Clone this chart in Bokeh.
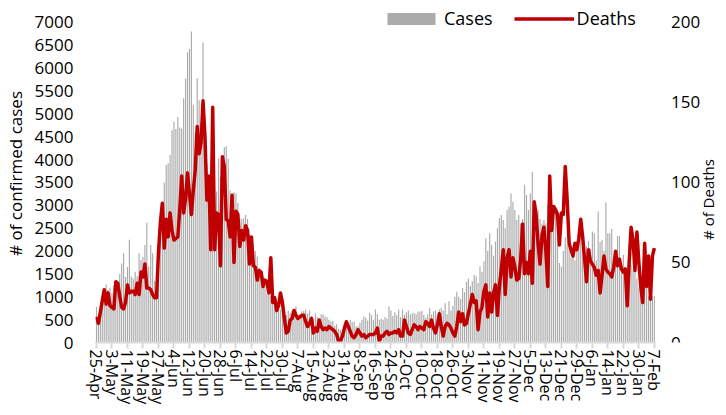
import math
from bokeh.plotting import figure
from bokeh.models import (Range1d, FixedTicker, Legend, LegendItem,
                          ColumnDataSource, Label)
from bokeh.core.properties import value
from bokeh.embed import file_html
from bokeh.resources import INLINE

tick_labels = ["25-Apr", "3-May", "11-May", "19-May", "27-May", "4-Jun", "12-Jun",
               "20-Jun", "28-Jun", "6-Jul", "14-Jul", "22-Jul", "30-Jul", "7-Aug",
               "15-Aug", "23-Aug", "31-Aug", "8-Sep", "16-Sep", "24-Sep", "2-Oct",
               "10-Oct", "18-Oct", "26-Oct", "3-Nov", "11-Nov", "19-Nov", "27-Nov",
               "5-Dec", "13-Dec", "21-Dec", "29-Dec", "6-Jan", "14-Jan", "22-Jan",
               "30-Jan", "7-Feb"]
tick_step_days = 8

cases = [
    780, 620, 700, 900, 1000, 1270, 1150, 1200,
    1080, 1250, 1300, 1200, 1500, 1730, 1950, 1440,
    1650, 2250, 1450, 1400, 1550, 1450, 1950, 1800,
    1870, 2130, 2620, 1660, 2130, 1950, 1350, 1440,
    2050, 2600, 3080, 3500, 3880, 3920, 4100, 4640,
    4830, 4670, 4930, 4700, 4680, 5340, 5770, 6350,
    6420, 6800, 5190, 4600, 5780, 5300, 4800, 6560,
    4420, 3910, 3620, 3400, 3500, 3080, 3300, 4020,
    3620, 4050, 4270, 4300, 4020, 3330, 3260, 3290,
    3260, 3050, 2720, 2700, 2720, 2790, 2700, 2360,
    2150, 2000, 2000, 1880, 1630, 1450, 1450, 1230,
    1060, 1100, 1010, 900, 850, 830, 880, 720,
    700, 640, 600, 700, 650, 690, 560, 790,
    600, 580, 680, 690, 720, 640, 700, 580,
    520, 640, 560, 470, 620, 610, 570, 550,
    500, 460, 470, 360, 400, 300, 280, 250,
    420, 360, 400, 500, 450, 460, 350, 360,
    430, 500, 570, 540, 480, 650, 600, 500,
    720, 620, 500, 520, 500, 560, 520, 790,
    700, 580, 660, 600, 720, 560, 720, 600,
    660, 700, 620, 640, 650, 620, 680, 680,
    690, 600, 540, 620, 750, 620, 680, 700,
    580, 720, 760, 700, 860, 620, 900, 700,
    800, 1000, 1110, 1000, 950, 1190, 1100, 1330,
    1400, 1230, 1340, 1480, 1450, 1300, 1665, 1550,
    1770, 2280, 2000, 2390, 2135, 1900, 2210, 2500,
    2720, 2790, 2680, 2500, 2900, 2970, 3260, 3080,
    2900, 2680, 2790, 2600, 2700, 3450, 3225, 2900,
    3260, 3730, 3080, 2970, 2900, 2700, 2600, 2680,
    2600, 3000, 2900, 3120, 2800, 2860, 2300, 1740,
    1660, 2000, 2300, 2150, 2100, 1850, 1950, 1800,
    2000, 2430, 2300, 2063, 1700, 2100, 2225, 2050,
    2430, 2390, 1800, 2865, 2200, 2250, 2000, 3060,
    2390, 2390, 2480, 1700, 1900, 2330, 2330, 1700,
    1920, 1500, 1010, 2100, 1700, 1590, 1735, 1400,
    1200, 1230, 1200, 1300, 1230, 1010, 1230, 1010,
    1010,
]

deaths = [
    16, 12, 19, 26, 33, 24, 31, 23,
    22, 21, 38, 37, 29, 22, 21, 25,
    36, 31, 32, 32, 30, 37, 30, 44,
    41, 49, 34, 34, 33, 30, 28, 28,
    56, 75, 87, 59, 77, 66, 81, 70,
    64, 65, 66, 83, 104, 81, 90, 106,
    93, 80, 95, 108, 135, 118, 125, 151,
    129, 89, 104, 58, 147, 58, 81, 80,
    48, 116, 110, 77, 76, 66, 92, 50,
    82, 80, 60, 70, 64, 73, 70, 49,
    66, 48, 47, 39, 45, 44, 35, 39,
    38, 31, 53, 25, 28, 20, 23, 31,
    25, 15, 6, 7, 14, 15, 20, 17,
    15, 16, 17, 17, 13, 10, 12, 15,
    6, 9, 7, 14, 10, 8, 9, 8,
    10, 9, 8, 7, 5, 1, 1, 4,
    9, 13, 10, 7, 4, 3, 5, 8,
    6, 4, 5, 3, 4, 5, 5, 5,
    6, 9, 1, 4, 4, 6, 7, 5,
    6, 6, 7, 6, 8, 4, 4, 14,
    10, 6, 5, 8, 11, 10, 8, 10,
    9, 8, 13, 12, 10, 14, 9, 6,
    11, 18, 10, 4, 10, 12, 11, 9,
    6, 4, 10, 19, 13, 18, 11, 12,
    18, 24, 30, 25, 26, 8, 19, 22,
    32, 36, 16, 31, 19, 31, 36, 17,
    35, 46, 58, 30, 53, 58, 41, 53,
    47, 39, 40, 52, 74, 43, 50, 43,
    57, 37, 88, 79, 61, 49, 67, 72,
    57, 35, 104, 70, 85, 83, 80, 61,
    81, 80, 110, 89, 62, 58, 54, 62,
    58, 65, 77, 66, 52, 38, 58, 51,
    49, 47, 42, 45, 31, 42, 54, 46,
    44, 43, 41, 47, 57, 48, 52, 46,
    44, 46, 23, 50, 72, 64, 45, 69,
    50, 35, 25, 62, 35, 54, 27, 54,
    59,
]

cases_ticks = list(range(0, 7001, 500))
deaths_ticks = [0, 50, 100, 150, 200]
cases_max = 7000
deaths_max = 200

FONT = "Open Sans"

# ---- layout (pixels) ----
W, H = 718, 407
LEFT, TOP, BOTTOM = 87, 4, 64
DATA_PX_W = 567               # width of the day axis in pixels
AXIS_PX = 321                 # pixels from value 0 to the top tick
RIGHT_LABEL_GAP = 16          # gap between day axis end and right tick labels
RIGHT_TITLE_X = 612           # right title anchor, px from frame left
TITLE_Y = 143                 # right title centre, px from frame bottom

n = len(cases)
frame_w = W - LEFT
frame_h = H - TOP - BOTTOM
px_per_day = DATA_PX_W / n
x_lo = -0.5
x_hi = x_lo + frame_w / px_per_day          # frame extends right for the right labels
x_rlab = x_lo + (DATA_PX_W + RIGHT_LABEL_GAP) / px_per_day
scale_up = frame_h / AXIS_PX                # frame extends above the top tick

day = list(range(n))
src = ColumnDataSource(dict(day=day, cases=cases, deaths=deaths))

p = figure(width=W, height=H, output_backend="svg", toolbar_location=None,
           x_range=Range1d(x_lo, x_hi),
           y_range=Range1d(0, cases_max * scale_up),
           min_border_left=LEFT, min_border_right=0, min_border_top=TOP,
           min_border_bottom=BOTTOM)
p.extra_y_ranges = {"deaths": Range1d(0, deaths_max * scale_up)}
p.outline_line_color = None
p.xgrid.visible = False
p.ygrid.visible = False
p.background_fill_color = "white"
p.border_fill_color = "white"

bars = p.vbar(x="day", top="cases", width=0.6, source=src,
              fill_color="#ABABAB", line_color=None)
line = p.line(x="day", y="deaths", source=src, y_range_name="deaths",
              line_color="#C00000", line_width=3.5, line_join="round")

# x axis (line limited to the day range)
xa = p.xaxis[0]
xt = [i * tick_step_days for i in range(len(tick_labels))]
xa.ticker = FixedTicker(ticks=xt)
xa.bounds = (x_lo, n - 0.5)
xa.major_label_overrides = {t: lab for t, lab in zip(xt, tick_labels)}
xa.major_label_orientation = -math.pi / 2
xa.axis_line_color = "#D9D9D9"
xa.axis_line_width = 2
xa.major_tick_line_color = "#D9D9D9"
xa.major_tick_line_width = 2
xa.major_tick_in = 0
xa.major_tick_out = 6
xa.minor_tick_line_color = None
xa.major_label_standoff = 1
xa.major_label_text_font = FONT
xa.major_label_text_font_size = "16px"
xa.major_label_text_color = "#000000"

# left axis
ya = p.yaxis[0]
ya.ticker = FixedTicker(ticks=cases_ticks)
ya.axis_line_color = None
ya.major_tick_line_color = None
ya.minor_tick_line_color = None
ya.major_label_standoff = 16
ya.major_label_text_font = FONT
ya.major_label_text_font_size = "17px"
ya.major_label_text_color = "#000000"
ya.axis_label = "# of confirmed cases"
ya.axis_label_text_font = FONT
ya.axis_label_text_font_size = "17px"
ya.axis_label_text_font_style = "normal"
ya.axis_label_text_color = "#000000"
ya.axis_label_standoff = 5

# right (deaths) scale: tick labels placed with the deaths range
rsrc = ColumnDataSource(dict(x=[x_rlab] * len(deaths_ticks), y=deaths_ticks,
                             t=[str(v) for v in deaths_ticks]))
p.text(x="x", y="y", text="t", source=rsrc, y_range_name="deaths",
       text_align="left", text_baseline="middle",
       text_font=value(FONT), text_font_size=value("17px"), text_color="#000000")

right_title = Label(x=RIGHT_TITLE_X, y=TITLE_Y, x_units="screen", y_units="screen",
                    text="# of Deaths", angle=math.pi / 2,
                    text_align="center", text_baseline="middle",
                    text_font=FONT, text_font_size="15px", text_color="#000000")
p.add_layout(right_title)

legend = Legend(items=[LegendItem(label="Cases", renderers=[bars]),
                       LegendItem(label="Deaths", renderers=[line])],
                orientation="horizontal", location=(286, 312),
                glyph_width=60, glyph_height=15, label_height=20,
                label_text_font=FONT, label_text_font_size="18px",
                label_text_color="#000000",
                padding=0, margin=0, spacing=21, label_standoff=3,
                border_line_color=None, background_fill_alpha=0)
p.add_layout(legend)

open("out.html", "w").write(file_html(p, INLINE))
